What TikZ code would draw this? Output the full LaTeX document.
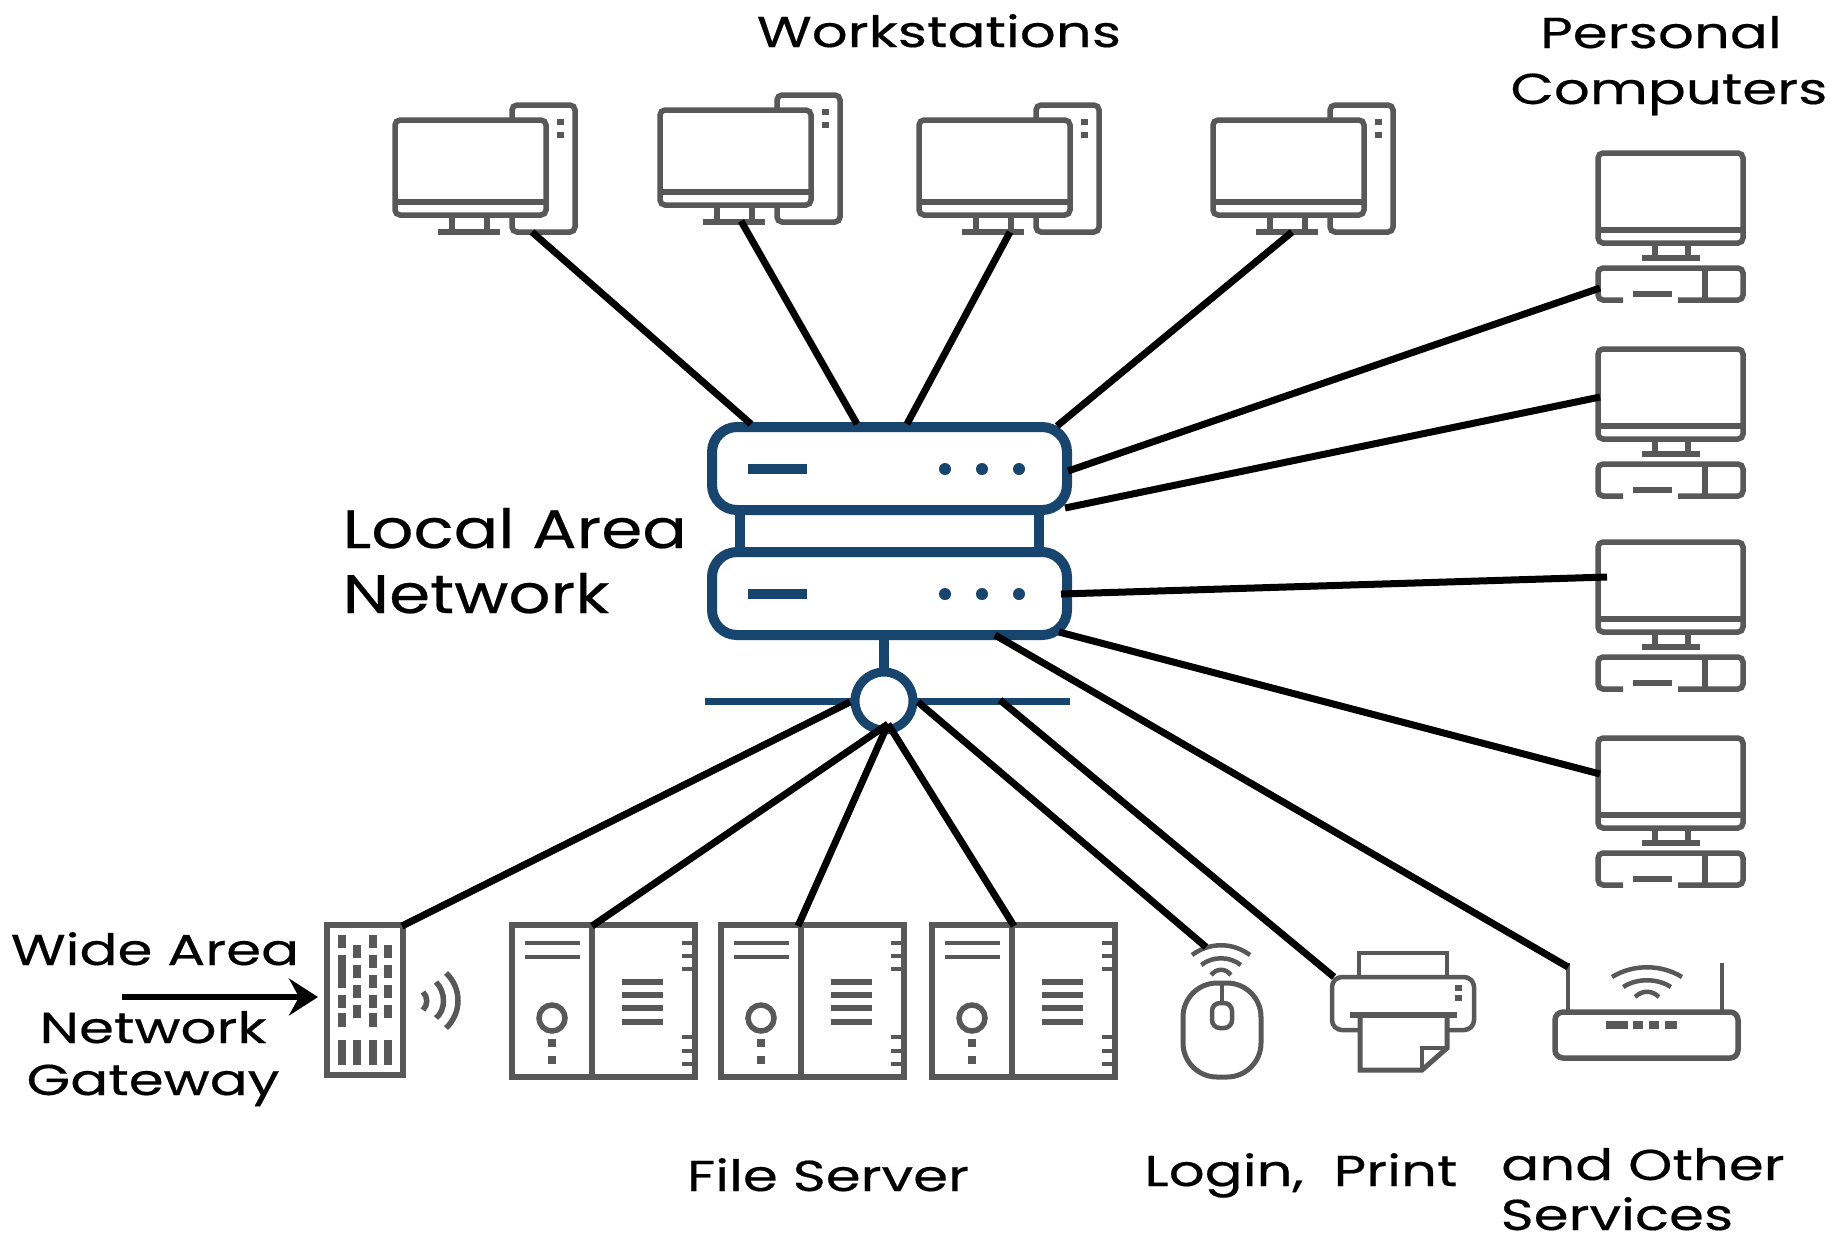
\documentclass[tikz,border=0pt]{standalone}
\usepackage{fontspec}
\setmainfont{Poppins}[FakeBold=0.4, FakeStretch=1.3]
\newfontfamily\lanfont{Poppins}[FakeBold=0.4, FakeStretch=1.22]
\usetikzlibrary{arrows.meta}
\definecolor{lanblue}{HTML}{17456E}
\definecolor{icongray}{HTML}{585858}
\tikzset{
	icon/.style={line width=0.55mm, color=icongray},
	iconthin/.style={line width=0.45mm, color=icongray},
	lan/.style={line width=1mm, color=lanblue},
	link/.style={line width=0.7mm, color=black},
	caption/.style={inner sep=0pt, anchor=base, font=\fontsize{12.3}{15}\selectfont},
	bigcaption/.style={inner sep=0pt, anchor=base west, font=\lanfont\fontsize{15.4}{18}\selectfont}
}
% icons, all in reference pixels
\def\workstation(#1,#2){
	\begin{scope}[shift={(#1,#2)}]
		\draw[icon, rounded corners=0.5mm] (117, 0) rectangle (180, 127);
		\draw[icon, fill=white, rounded corners=0.5mm] (0, 15) rectangle (151, 110);
		\draw[icon] (0, 97) -- (151, 97);
		\draw[icon] (57, 110) -- (57, 127);
		\draw[icon] (92, 110) -- (92, 127);
		\draw[icon] (43, 127) -- (105, 127);
		\draw[icon, line width=0.7mm] (165, 14) -- (165, 20);
		\draw[icon, line width=0.7mm] (165, 27) -- (165, 33);
	\end{scope}
}
\def\pcunit(#1,#2){
	\begin{scope}[shift={(#1,#2)}]
		\draw[icon, rounded corners=0.5mm] (0, 0) rectangle (145, 90);
		\draw[icon] (0, 77) -- (145, 77);
		\draw[icon] (57, 90) -- (57, 105);
		\draw[icon] (90, 90) -- (90, 105);
		\draw[icon] (44, 105) -- (102, 105);
		\draw[icon, rounded corners=0.5mm] (25, 147) -- (0, 147) -- (0, 115) -- (145, 115) -- (145, 147) -- (80, 147);
		\draw[icon] (35, 141) -- (74, 141);
		\draw[icon] (107, 115) -- (107, 147);
	\end{scope}
}
\def\fileserver(#1,#2){
	\begin{scope}[shift={(#1,#2)}]
		\draw[icon] (0, 0) rectangle (183, 152);
		\draw[icon] (80, 0) -- (80, 152);
		\draw[iconthin] (13, 18) -- (68, 18);
		\draw[iconthin] (13, 32) -- (68, 32);
		\draw[icon] (40, 93) circle (13);
		\draw[icon, line width=0.8mm] (40, 114) -- (40, 122);
		\draw[icon, line width=0.8mm] (40, 131) -- (40, 139);
		\draw[icon] (110, 57) -- (151, 57);
		\draw[icon] (110, 70) -- (151, 70);
		\draw[icon] (110, 83) -- (151, 83);
		\draw[icon] (110, 97) -- (151, 97);
		\draw[iconthin] (170, 18) -- (180, 18);
		\draw[iconthin] (170, 31) -- (180, 31);
		\draw[iconthin] (170, 44) -- (180, 44);
		\draw[iconthin] (170, 112) -- (180, 112);
		\draw[iconthin] (170, 126) -- (180, 126);
		\draw[iconthin] (170, 139) -- (180, 139);
	\end{scope}
}
\def\wifi(#1,#2)(#3){
	\begin{scope}[shift={(#1,#2)}]
		\draw[iconthin] (-#3, 0) .. controls (-0.4*#3, -13) and (0.4*#3, -13) .. (#3, 0);
		\draw[iconthin] (-0.68*#3, 10) .. controls (-0.3*#3, 1) and (0.3*#3, 1) .. (0.68*#3, 10);
		\draw[iconthin] (-0.34*#3, 20) .. controls (-0.15*#3, 13) and (0.15*#3, 13) .. (0.34*#3, 20);
	\end{scope}
}

\begin{document}
\begin{tikzpicture}[x=0.01cm, y=-0.01cm]
	%%%%% START %%%%%
	\useasboundingbox (0, 0) rectangle (1845, 1241);

	% workstations
	\workstation(395, 105)
	\workstation(660, 95)
	\workstation(919, 105)
	\workstation(1213, 105)

	% personal computers
	\pcunit(1598, 153)
	\pcunit(1598, 349)
	\pcunit(1598, 542)
	\pcunit(1598, 738)

	% switch
	\draw[lan, rounded corners=2.5mm] (712, 427) rectangle (1067, 510);
	\draw[lan, rounded corners=2.5mm] (712, 552) rectangle (1067, 635);
	\draw[lan] (740, 510) -- (740, 552);
	\draw[lan] (1039, 510) -- (1039, 552);
	\draw[lan] (748, 469) -- (807, 469);
	\draw[lan] (748, 594) -- (807, 594);
	\fill[lanblue] (945, 469) circle (6);
	\fill[lanblue] (982, 469) circle (6);
	\fill[lanblue] (1019, 469) circle (6);
	\fill[lanblue] (945, 594) circle (6);
	\fill[lanblue] (982, 594) circle (6);
	\fill[lanblue] (1019, 594) circle (6);
	\draw[lan] (884, 635) -- (884, 672);
	\draw[lan, line width=0.7mm] (705, 701) -- (855, 701);
	\draw[lan, line width=0.7mm] (913, 701) -- (1070, 701);
	\draw[lan, line width=0.9mm] (884, 701) circle (29);

	% gateway
	\draw[icon] (327, 925) rectangle (403, 1075);
	\draw[icon, line width=0.8mm]
		(342, 935) -- (342, 948) (342, 955) -- (342, 988) (342, 995) -- (342, 1008) (342, 1013) -- (342, 1027)
		(357, 945) -- (357, 958) (357, 965) -- (357, 978) (357, 985) -- (357, 998) (357, 1005) -- (357, 1018)
		(373, 935) -- (373, 948) (373, 955) -- (373, 968) (373, 975) -- (373, 988) (373, 995) -- (373, 1008) (373, 1013) -- (373, 1027)
		(388, 945) -- (388, 958) (388, 965) -- (388, 978) (388, 985) -- (388, 998) (388, 1005) -- (388, 1018);
	\draw[icon, line width=0.8mm]
		(342, 1040) -- (342, 1065) (357, 1040) -- (357, 1065) (373, 1040) -- (373, 1065) (388, 1040) -- (388, 1065);
	\draw[icon] (423, 992) .. controls (428, 997) and (428, 1005) .. (423, 1010);
	\draw[icon] (436, 982) .. controls (446, 992) and (446, 1010) .. (436, 1018);
	\draw[icon] (446, 973) .. controls (462, 988) and (462, 1013) .. (446, 1028);

	% file servers
	\fileserver(512, 925)
	\fileserver(721, 925)
	\fileserver(932, 925)

	% mouse
	\draw[iconthin, line width=0.5mm, rounded corners=3.4mm] (1183, 983) rectangle (1261, 1077);
	\draw[iconthin] (1222, 983) -- (1222, 1003);
	\draw[iconthin, rounded corners=0.8mm] (1212, 1003) rectangle (1232, 1028);
	\wifi(1221, 955)(29)

	% printer
	\draw[iconthin] (1359, 977) -- (1359, 953) -- (1447, 953) -- (1447, 977);
	\draw[iconthin, rounded corners=1mm] (1359, 1030) -- (1332, 1030) -- (1332, 977) -- (1474, 977) -- (1474, 1030) -- (1447, 1030);
	\draw[icon] (1350, 1015) -- (1457, 1015);
	\draw[iconthin, line width=0.5mm] (1360, 1015) -- (1360, 1070) -- (1422, 1070) -- (1447, 1048) -- (1447, 1015);
	\draw[iconthin] (1447, 1048) -- (1422, 1048) -- (1422, 1070);
	\draw[iconthin, line width=0.7mm] (1458, 985) -- (1458, 991);
	\draw[iconthin, line width=0.7mm] (1458, 995) -- (1458, 1001);

	% router
	\draw[icon, rounded corners=0.8mm] (1555, 1012) rectangle (1738, 1058);
	\draw[iconthin] (1568, 963) -- (1568, 1012);
	\draw[iconthin] (1722, 963) -- (1722, 1012);
	\draw[iconthin, line width=0.8mm] (1606, 1025) -- (1628, 1025);
	\draw[iconthin, line width=0.8mm] (1633, 1025) -- (1643, 1025);
	\draw[iconthin, line width=0.8mm] (1649, 1025) -- (1659, 1025);
	\draw[iconthin, line width=0.8mm] (1665, 1025) -- (1677, 1025);
	\wifi(1647, 977)(35)

	% connector ends
	\coordinate (wsa) at (532, 232);
	\coordinate (wsb) at (741, 221);
	\coordinate (wsc) at (1010, 232);
	\coordinate (wsd) at (1292, 232);
	\coordinate (pca) at (1600, 288);
	\coordinate (pcb) at (1600, 397);
	\coordinate (pcc) at (1607, 577);
	\coordinate (pcd) at (1600, 774);
	\coordinate (lana) at (751, 424);
	\coordinate (lanb) at (857, 424);
	\coordinate (lanc) at (907, 424);
	\coordinate (land) at (1057, 426);
	\coordinate (lane) at (1068, 471);
	\coordinate (lanf) at (1065, 508);
	\coordinate (lang) at (1061, 594);
	\coordinate (lanh) at (1059, 632);
	\coordinate (lani) at (995, 635);
	\coordinate (busa) at (1000, 700);
	\coordinate (busb) at (918, 702);
	\coordinate (busc) at (850, 702);
	\coordinate (hub) at (888, 724);
	\coordinate (router) at (1568, 967);
	\coordinate (printer) at (1334, 977);
	\coordinate (mouse) at (1206, 947);
	\coordinate (gateway) at (402, 926);
	\coordinate (fsa) at (592, 926);
	\coordinate (fsb) at (798, 926);
	\coordinate (fsc) at (1014, 926);
	\coordinate (wan) at (122, 997);
	\coordinate (wanend) at (318, 997);

	% connectors
	\draw[link] (wsa) -- (lana);
	\draw[link] (wsb) -- (lanb);
	\draw[link] (wsc) -- (lanc);
	\draw[link] (wsd) -- (land);
	\draw[link] (pca) -- (lane);
	\draw[link] (pcb) -- (lanf);
	\draw[link] (pcc) -- (lang);
	\draw[link] (pcd) -- (lanh);
	\draw[link] (router) -- (lani);
	\draw[link] (printer) -- (busa);
	\draw[link] (mouse) -- (busb);
	\draw[link] (gateway) -- (busc);
	\draw[link] (fsa) -- (hub);
	\draw[link] (fsb) -- (hub);
	\draw[link] (fsc) -- (hub);
	\draw[link, -{Stealth[length=2.9mm, width=3.7mm, inset=1mm]}, line width=0.55mm] (wan) -- (wanend);

	% labels
	\node[caption] (workstations) at (939, 47) {Workstations};
	\node[caption] (personal) at (1661, 48) {Personal};
	\node[caption] (computers) at (1669, 104) {Computers};
	\node[bigcaption] (local) at (342, 548) {Local Area};
	\node[bigcaption] (network) at (342, 613) {Network};
	\node[caption] (widearea) at (155, 965) {Wide Area};
	\node[caption] (wannet) at (153, 1043) {Network};
	\node[caption] (wangate) at (153, 1095) {Gateway};
	\node[caption] (fileserver) at (828, 1191) {File Server};
	\node[caption] (login) at (1301, 1186) {Login,\ \ Print};
	\node[caption] (andother) at (1643, 1180) {and Other};
	\node[caption] (services) at (1617, 1230) {Services};
	%%%%% END %%%%%
\end{tikzpicture}
\end{document}
